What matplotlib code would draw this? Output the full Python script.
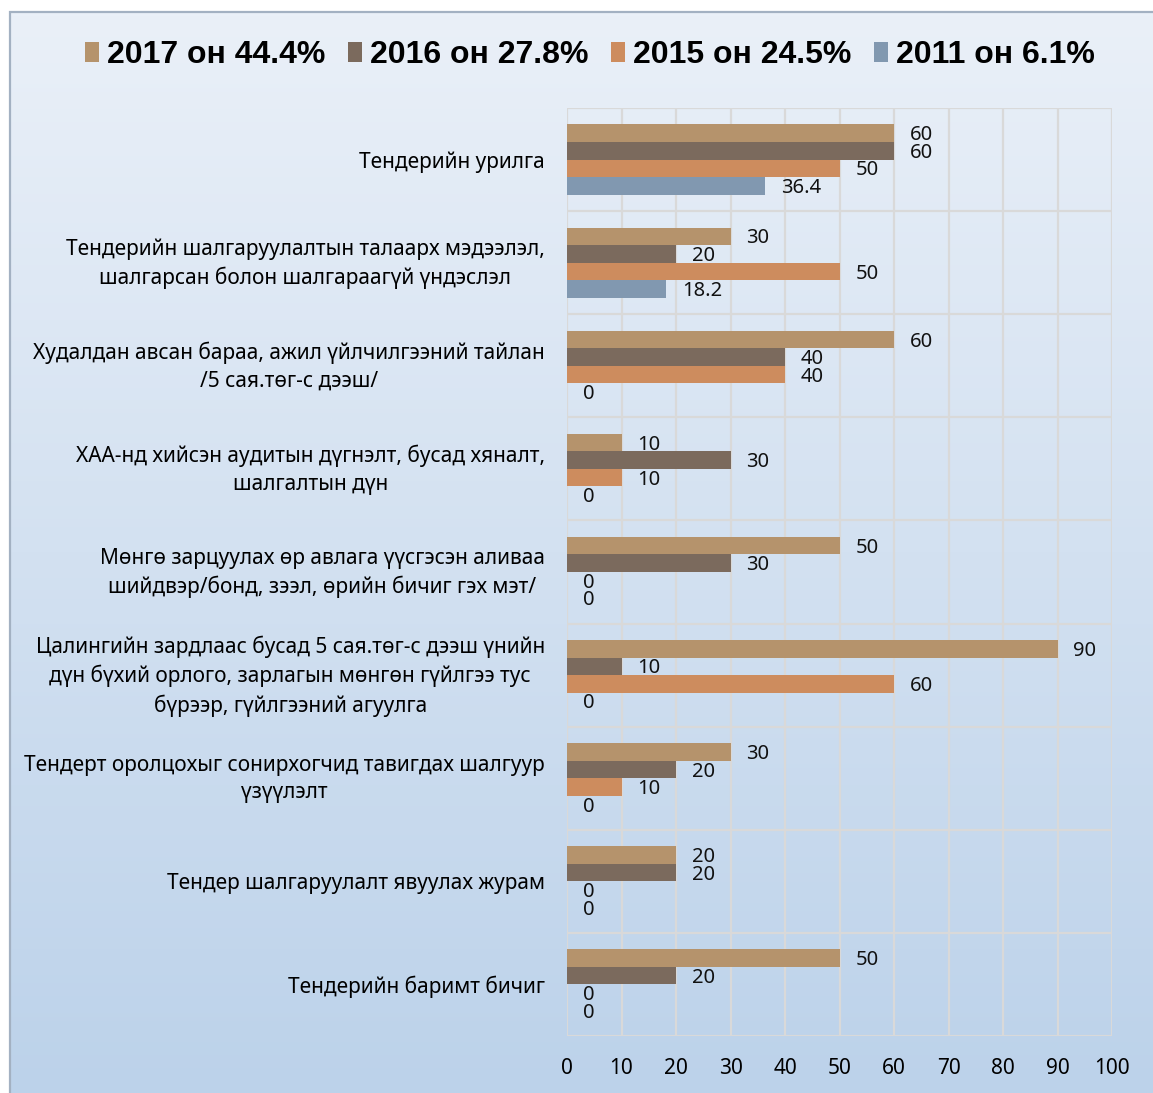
import numpy as np
import matplotlib.pyplot as plt
import matplotlib.transforms as mtransforms
from matplotlib.patches import Rectangle

categories = [
    'Тендерийн урилга',
    'Тендерийн шалгаруулалтын талаарх мэдээлэл,\nшалгарсан болон шалгараагүй үндэслэл',
    'Худалдан авсан бараа, ажил үйлчилгээний тайлан\n/5 сая.төг-с дээш/',
    'ХАА-нд хийсэн аудитын дүгнэлт, бусад хяналт,\nшалгалтын дүн',
    'Мөнгө зарцуулах өр авлага үүсгэсэн аливаа\nшийдвэр/бонд, зээл, өрийн бичиг гэх мэт/',
    'Цалингийн зардлаас бусад 5 сая.төг-с дээш үнийн\nдүн бүхий орлого, зарлагын мөнгөн гүйлгээ тус\nбүрээр, гүйлгээний агуулга',
    'Тендерт оролцохыг сонирхогчид тавигдах шалгуур\nүзүүлэлт',
    'Тендер шалгаруулалт явуулах журам',
    'Тендерийн баримт бичиг',
]
series_names = ['2017 он 44.4%', '2016 он 27.8%', '2015 он 24.5%', '2011 он 6.1%']
v2017 = [60, 30, 60, 10, 50, 90, 30, 20, 50]
v2016 = [60, 20, 40, 30, 30, 10, 20, 20, 20]
v2015 = [50, 50, 40, 10, 0, 60, 10, 0, 0]
v2011 = [36.4, 18.2, 0, 0, 0, 0, 0, 0, 0]
x_ticks = list(range(0, 101, 10))

colors = ['#b5936c', '#7b6a5d', '#cd8c5e', '#8198b0']
W, H = 1153, 1093

fig = plt.figure(figsize=(W / 100, H / 100), dpi=100)

# gradient background with a frame
bg = fig.add_axes([10 / W, 0, 1, (H - 12) / H])
grad = np.linspace(0, 1, 256)[:, None]
top = np.array([234, 240, 248]) / 255
bot = np.array([188, 210, 234]) / 255
img = top[None, None, :] * (1 - grad[..., None]) + bot[None, None, :] * grad[..., None]
bg.imshow(img, aspect='auto', extent=[0, 1, 0, 1])
bg.set_xlim(0, 1)
bg.set_ylim(0, 1)
bg.axis('off')
fig.patches.append(Rectangle((10 / W, -0.01), 1.1, (H - 12) / H + 0.01, transform=fig.transFigure,
                             fill=False, edgecolor='#a3b1c2', lw=1.6, zorder=5))

ax = fig.add_axes([567 / W, 1 - 1036 / H, 545 / W, 928 / H])
ax.set_facecolor('none')

y = np.arange(len(categories))
bh = 0.17
for k, vals in enumerate([v2017, v2016, v2015, v2011]):
    pos = y - 0.34 + bh / 2 + k * bh
    ax.barh(pos, vals, height=bh, color=colors[k], label=series_names[k], zorder=3)
    for p, v in zip(pos, vals):
        txt = f'{v:g}'
        ax.annotate(txt, (v, p), xytext=(11.5, -1.5), textcoords='offset points',
                    ha='left', va='center', fontsize=14.5, family='Noto Sans', color='#111111', zorder=4)

ax.set_xlim(0, 100)
ax.set_ylim(len(categories) - 0.5, -0.5)
ax.set_xticks(x_ticks)
ax.set_xticklabels([str(t) for t in x_ticks], fontsize=15, family='Noto Sans')
ax.set_yticks(y)
ax.set_yticklabels(categories, fontsize=15, family='Noto Sans', multialignment='center',
                   linespacing=1.4)
ax.set_yticks(np.arange(-0.5, len(categories), 1), minor=True)
ax.tick_params(axis='x', length=0, pad=16)
ax.tick_params(axis='y', which='both', length=0, pad=16)
ax.grid(axis='x', color='#d9d9d9', lw=1.6, zorder=0)
ax.grid(axis='y', which='minor', color='#d9d9d9', lw=1.6, zorder=0)
for s in ax.spines.values():
    s.set_visible(False)

# nudge multi-line labels up a little so they sit centred on their group
lift = mtransforms.ScaledTranslation(0, 3.5 / 72, fig.dpi_scale_trans)
for lbl in ax.get_yticklabels():
    if '\n' in lbl.get_text():
        lbl.set_transform(lbl.get_transform() + lift)

fig.legend(loc='center', bbox_to_anchor=(590 / W, 1 - 55 / H), ncol=4, frameon=False,
           prop={'family': 'Liberation Sans', 'weight': 'bold', 'size': 23},
           handlelength=0.45, handleheight=0.6, handletextpad=0.25, columnspacing=0.7)

fig.savefig('out.png', dpi=100)
